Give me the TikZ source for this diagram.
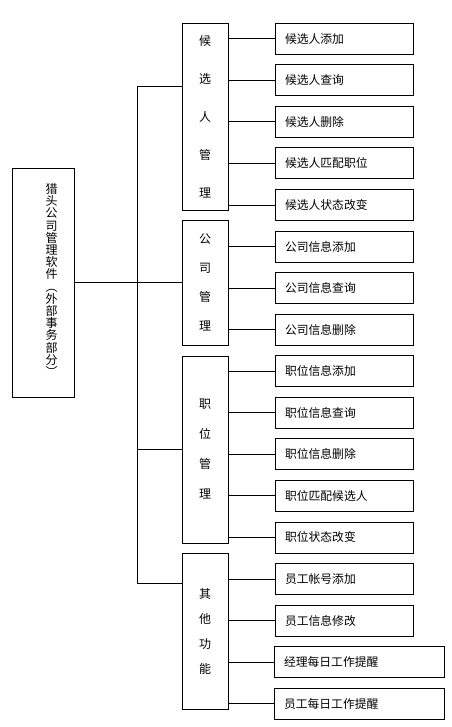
\documentclass[tikz,border=0pt]{standalone}
\usepackage{fontspec}
\newfontfamily\cjk{Noto Sans CJK SC}
\usetikzlibrary{positioning}

\tikzset{
  box/.style={draw, line width=0.8pt, inner sep=0pt},
  leaf/.style={box, minimum height=31pt, inner xsep=10pt, text width=118pt, align=left,
    font=\cjk\fontsize{11.8}{13}\selectfont},
  wideleaf/.style={leaf, text width=150pt},
  group/.style={box, minimum width=46pt, align=center},
  link/.style={line width=0.8pt}
}

\begin{document}
\begin{tikzpicture}[x=1pt, y=-1pt]
\useasboundingbox (0,0) rectangle (451,727);

% Root box
\node[box, minimum width=62pt, minimum height=229pt] (root) at (43,282.5) {};
\node[align=center, inner sep=0pt, font=\cjk\fontsize{12}{12.2}\selectfont] (rootlabel) at (51.5,280)
  {猎\\头\\公\\司\\管\\理\\软\\件\\︵\\外\\部\\事\\务\\部\\分\\︶};

% Group boxes
\node[group, minimum height=187pt, font=\cjk\fontsize{12}{38}\selectfont] (g1) at (205,116.5) {候\\选\\人\\管\\理};
\node[group, minimum height=125pt, font=\cjk\fontsize{12}{29}\selectfont] (g2) at (205,282.5) {公\\司\\管\\理};
\node[group, minimum height=187pt, font=\cjk\fontsize{12}{30}\selectfont] (g3) at (205,449.5) {职\\位\\管\\理};
\node[group, minimum height=156pt, font=\cjk\fontsize{12}{25}\selectfont] (g4) at (205,631) {其\\他\\功\\能};

% Leaf boxes
\foreach \i/\t in {0/候选人添加, 1/候选人查询, 2/候选人删除, 3/候选人匹配职位, 4/候选人状态改变,
                   5/公司信息添加, 6/公司信息查询, 7/公司信息删除,
                   8/职位信息添加, 9/职位信息查询, 10/职位信息删除, 11/职位匹配候选人, 12/职位状态改变,
                   13/员工帐号添加, 14/员工信息修改}
  \node[leaf] (l\i) at (344,{38.7+41.56*\i}) {\t};
\node[wideleaf] (l15) at (359,{38.7+41.56*15}) {经理每日工作提醒};
\node[wideleaf] (l16) at (359,{38.7+41.56*16}) {员工每日工作提醒};

% Group to leaf connectors
\foreach \i/\g in {0/g1, 1/g1, 2/g1, 3/g1, 4/g1, 5/g2, 6/g2, 7/g2,
                   8/g3, 9/g3, 10/g3, 11/g3, 12/g3, 13/g4, 14/g4, 15/g4, 16/g4}
  \draw[link] (\g.east |- l\i.west) -- (l\i.west);

% Bus from the root
\coordinate (bustop) at (137,86);
\coordinate (busbot) at (137,583);
\draw[link] (bustop) -- (busbot);
\draw[link] (bustop) -- (bustop -| g1.west);
\draw[link] (root.east) -- (g2.west);
\draw[link] (g3.west -| bustop) -- (g3.west);
\draw[link] (busbot) -- (busbot -| g4.west);
\end{tikzpicture}
\end{document}
